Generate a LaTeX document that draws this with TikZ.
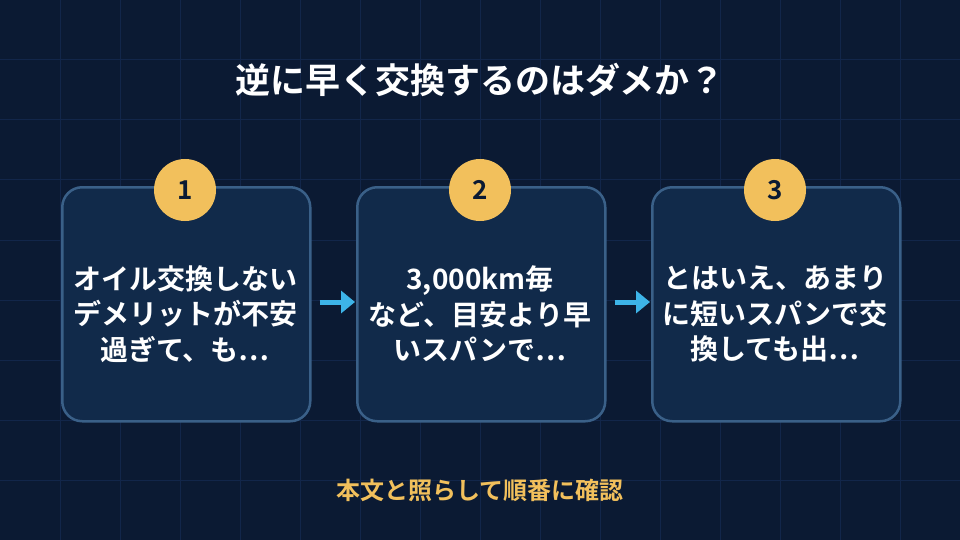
\documentclass[tikz,border=0pt]{standalone}
\usepackage{fontspec}
\newfontfamily\cjk{Noto Sans CJK JP}[BoldFont={Noto Sans CJK JP Bold}]
\usetikzlibrary{arrows.meta}
\definecolor{bg}{HTML}{0B1A33}
\definecolor{gridc}{HTML}{12264A}
\definecolor{boxf}{HTML}{112A4A}
\definecolor{boxd}{HTML}{3A6088}
\definecolor{gold}{HTML}{F2C05C}
\definecolor{arr}{HTML}{3DB4E8}
\begin{document}
\begin{tikzpicture}[x=1pt,y=-1pt,
  box/.style={draw=boxd,line width=2.5pt,fill=boxf,rounded corners=20pt,minimum width=248pt,minimum height=234pt,anchor=north west},
  txt/.style={text=white,font=\cjk\bfseries\fontsize{28}{35.5}\selectfont,align=center},
  num/.style={circle,fill=gold,minimum size=62pt,inner sep=0pt,text=bg,font=\cjk\bfseries\fontsize{26}{30}\selectfont},
  ar/.style={-{Triangle[length=14pt,width=22pt]},arr,line width=5pt,shorten <=8pt,shorten >=1pt}]
\useasboundingbox (0,0) rectangle (960,540);
\fill[bg] (0,0) rectangle (960,540);
\foreach \i in {60,120,...,900} \draw[gridc,line width=1pt] (\i,0) -- (\i,540);
\foreach \i in {60,120,...,480} \draw[gridc,line width=1pt] (0,\i) -- (960,\i);
\node[text=white,font=\cjk\bfseries\fontsize{35}{38}\selectfont] (title) at (480,80) {逆に早く交換するのはダメか？};
\node[box] (b1) at (61,186) {};
\node[box] (b2) at (356,186) {};
\node[box] (b3) at (651,186) {};
\node[txt] (t1) at (185,314) {オイル交換しない\\デメリットが不安\\過ぎて、も…};
\node[txt] (t2) at (480,314) {3,000km毎\\など、目安より早\\いスパンで…};
\node[txt] (t3) at (775,314) {とはいえ、あまり\\に短いスパンで交\\換しても出…};
\node[num] (n1) at (185,190) {1};
\node[num] (n2) at (480,190) {2};
\node[num] (n3) at (775,190) {3};
\draw[ar] (b1.east |- 0,302) -- (b2.west |- 0,302);
\draw[ar] (b2.east |- 0,302) -- (b3.west |- 0,302);
\node[text=gold,font=\cjk\bfseries\fontsize{24}{26}\selectfont] (foot) at (480,490) {本文と照らして順番に確認};
\end{tikzpicture}
\end{document}
